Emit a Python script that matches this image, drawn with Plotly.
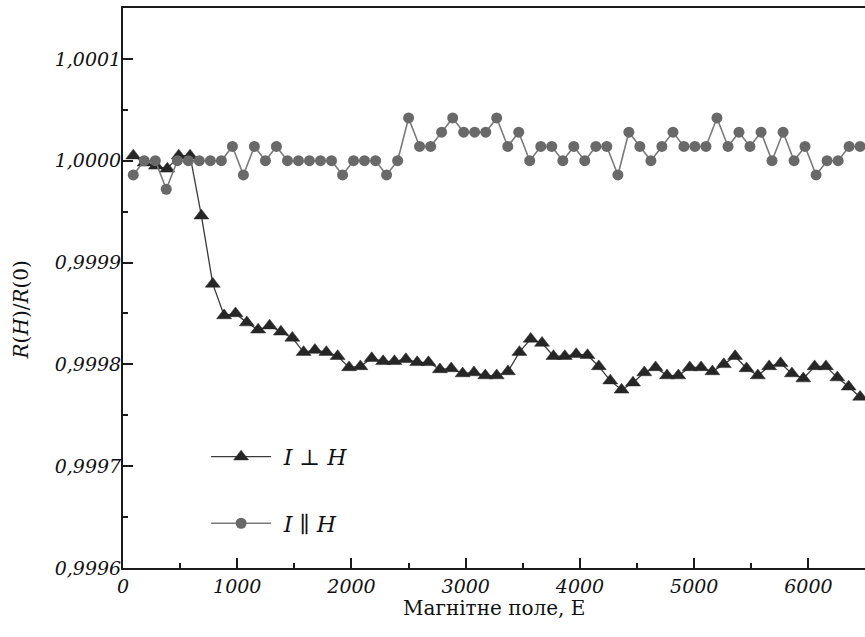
import plotly.graph_objects as go

# Magnetic field values (Oe) for each series
H_perp = [90, 189, 289, 388, 488, 587, 686, 786, 885, 985, 1084, 1183, 1283, 1382,
          1482, 1581, 1680, 1780, 1879, 1979, 2078, 2177, 2277, 2376, 2476, 2575,
          2674, 2774, 2873, 2973, 3072, 3171, 3271, 3370, 3470, 3569, 3668, 3768,
          3867, 3967, 4066, 4165, 4265, 4364, 4464, 4563, 4662, 4762, 4861, 4961,
          5060, 5159, 5259, 5358, 5458, 5557, 5656, 5756, 5855, 5955, 6054, 6153,
          6253, 6352, 6452]
R_perp = [1.000005, 0.999998, 0.999995, 0.999992, 1.000005, 1.000005, 0.999946,
          0.999879, 0.999848, 0.999850, 0.999841, 0.999834, 0.999838, 0.999832,
          0.999826, 0.999812, 0.999814, 0.999812, 0.999808, 0.999797, 0.999798,
          0.999806, 0.999803, 0.999803, 0.999805, 0.999802, 0.999802, 0.999795,
          0.999796, 0.999791, 0.999792, 0.999789, 0.999789, 0.999793, 0.999812,
          0.999825, 0.999821, 0.999808, 0.999808, 0.999810, 0.999809, 0.999798,
          0.999784, 0.999775, 0.999782, 0.999792, 0.999797, 0.999789, 0.999789,
          0.999797, 0.999797, 0.999793, 0.999800, 0.999808, 0.999796, 0.999789,
          0.999798, 0.999801, 0.999791, 0.999786, 0.999798, 0.999798, 0.999787,
          0.999778, 0.999768]

H_par = [90, 186, 283, 379, 476, 572, 668, 765, 861, 958, 1054, 1150, 1247, 1343,
         1440, 1536, 1632, 1729, 1825, 1922, 2018, 2114, 2211, 2307, 2404, 2500,
         2596, 2693, 2789, 2886, 2982, 3078, 3175, 3271, 3368, 3464, 3560, 3657,
         3753, 3850, 3946, 4042, 4139, 4235, 4332, 4428, 4524, 4621, 4717, 4814,
         4910, 5006, 5103, 5199, 5296, 5392, 5488, 5585, 5681, 5778, 5874, 5970,
         6067, 6163, 6260, 6356, 6452]
R_par = [0.999986, 1.0, 1.0, 0.999972, 1.0, 1.0, 1.0, 1.0, 1.0, 1.000014,
         0.999986, 1.000014, 1.0, 1.000014, 1.0, 1.0, 1.0, 1.0, 1.0, 0.999986,
         1.0, 1.0, 1.0, 0.999986, 1.0, 1.000042, 1.000014, 1.000014, 1.000028,
         1.000042, 1.000028, 1.000028, 1.000028, 1.000042, 1.000014, 1.000028,
         1.0, 1.000014, 1.000014, 1.0, 1.000014, 1.0, 1.000014, 1.000014,
         0.999986, 1.000028, 1.000014, 1.0, 1.000014, 1.000028, 1.000014,
         1.000014, 1.000014, 1.000042, 1.000014, 1.000028, 1.000014, 1.000028,
         1.0, 1.000028, 1.0, 1.000014, 0.999986, 1.0, 1.0, 1.000014, 1.000014]

SERIF = "DejaVu Serif"

fig = go.Figure()
fig.add_trace(go.Scatter(
    x=H_perp, y=R_perp, mode="lines+markers",
    name="\u2005\u200a<i>I</i> ⊥ <i>H</i>", legendgroup="a",
    line=dict(color="#3a3a3a", width=1.3),
    marker=dict(symbol="triangle-up", size=13, color="#262626",
                line=dict(color="#262626", width=0.5)),
))
fig.add_trace(go.Scatter(
    x=H_par, y=R_par, mode="lines+markers",
    name="\u2005\u200a<i>I</i> ∥ <i>H</i>", legendgroup="b",
    line=dict(color="#7a7a7a", width=1.6),
    marker=dict(symbol="circle", size=11, color="#696969"),
))

fig.update_layout(
    width=865, height=637,
    margin=dict(l=123, r=0, t=8, b=69),
    paper_bgcolor="white", plot_bgcolor="white",
    separators=",.",
    showlegend=True,
    legend=dict(x=0.112, y=0.236, xanchor="left", yanchor="top",
                bgcolor="rgba(0,0,0,0)", borderwidth=0,
                font=dict(family=SERIF, size=22, color="#111"),
                itemwidth=60, traceorder="grouped", tracegroupgap=35),
    xaxis=dict(range=[0, 6495], showline=True, linewidth=2, linecolor="#1a1a1a",
               mirror=True, showgrid=False, zeroline=False,
               ticks="inside", ticklen=10, tickwidth=1.5, tickcolor="#1a1a1a",
               dtick=1000, tick0=0,
               minor=dict(ticks="inside", ticklen=5, tickwidth=1.5,
                          tickcolor="#1a1a1a", dtick=500, showgrid=False),
               tickfont=dict(family=SERIF, size=19, color="#111", style="italic")),
    yaxis=dict(range=[0.9996, 1.00015], showline=True, linewidth=2,
               linecolor="#1a1a1a", mirror=False, showgrid=False, zeroline=False,
               ticks="inside", ticklen=10, tickwidth=1.5, tickcolor="#1a1a1a",
               dtick=0.0001, tick0=0.9996, tickformat=".4f",
               ticklabelstandoff=-4,
               minor=dict(ticks="inside", ticklen=5, tickwidth=1.5,
                          tickcolor="#1a1a1a", dtick=0.00005, showgrid=False),
               tickfont=dict(family=SERIF, size=19, color="#111", style="italic")),
    annotations=[
        dict(text="<i>R</i>(<i>H</i>)/<i>R</i>(0)", xref="paper", yref="paper",
             x=-0.138, y=0.461, textangle=-90, showarrow=False,
             xanchor="center", yanchor="middle",
             font=dict(family=SERIF, size=20, color="#111")),
        dict(text="Магнітне поле, Е", xref="paper", yref="paper",
             x=0.5, y=-0.071, showarrow=False, xanchor="center", yanchor="middle",
             font=dict(family=SERIF, size=20, color="#111")),
    ],
)

fig.write_html("out.html")
